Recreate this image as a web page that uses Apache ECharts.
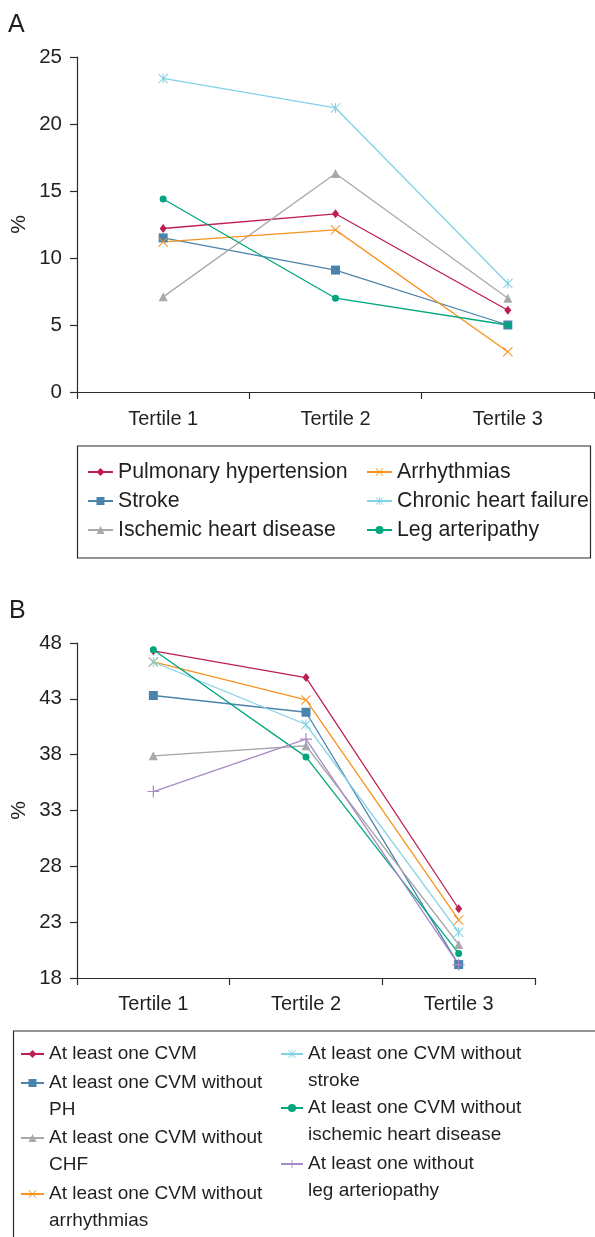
<!DOCTYPE html>
<html>
<head>
<meta charset="utf-8">
<script src="https://cdn.jsdelivr.net/npm/echarts@6/dist/echarts.min.js"></script>
<style>
html,body{margin:0;padding:0;background:#fff;}
#chart{width:595px;height:1237px;}
</style>
</head>
<body>
<div id="chart"></div>
<script>
// ---------- data ----------
const categories = ['Tertile 1', 'Tertile 2', 'Tertile 3'];
const yTicksA = [0, 5, 10, 15, 20, 25];
const yTicksB = [18, 23, 28, 33, 38, 43, 48];

// Panel A
const namesA = ['Pulmonary hypertension', 'Stroke', 'Ischemic heart disease', 'Arrhythmias', 'Chronic heart failure', 'Leg arteripathy'];
const pulmonaryHypertension = [12.2, 13.3, 6.1];
const strokeA = [11.5, 9.1, 5.0];
const ischemicHeartDisease = [7.1, 16.3, 7.0];
const arrhythmias = [11.2, 12.1, 3.0];
const chronicHeartFailure = [23.4, 21.2, 8.1];
const legArteripathy = [14.4, 7.0, 5.0];

// Panel B
const namesB = ['At least one CVM', 'At least one CVM without\nPH', 'At least one CVM without\nCHF', 'At least one CVM without\narrhythmias', 'At least one CVM without\nstroke', 'At least one CVM without\nischemic heart disease', 'At least one without\nleg arteriopathy'];
const cvmAny = [47.3, 44.9, 24.2];
const cvmNoPH = [43.3, 41.8, 19.2];
const cvmNoCHF = [37.9, 38.8, 21.0];
const cvmNoArrhythmias = [46.3, 42.9, 23.2];
const cvmNoStroke = [46.3, 40.7, 22.1];
const cvmNoIHD = [47.4, 37.8, 20.2];
const cvmNoLeg = [34.7, 39.4, 19.2];

// ---------- styles ----------
const FONT = 'Liberation Sans, Arial, Helvetica, sans-serif';
const TXT = '#231f20';
const AX = '#2b2b2b';
const C = {
  red: '#bf1e55', blue: '#4a83ab', gray: '#a7a9ac', orange: '#f7931e',
  cyan: '#80d2e6', green: '#00a67e', purple: '#a88ac6'
};
const SYM_X = 'path://M-10,-8.6L-8.6,-10L10,8.6L8.6,10Z M8.6,-10L10,-8.6L-8.6,10L-10,8.6Z';
const SYM_STAR = 'path://M-10,-8.6L-8.6,-10L10,8.6L8.6,10Z M8.6,-10L10,-8.6L-8.6,10L-10,8.6Z M-1,-10L1,-10L1,10L-1,10Z';
const SYM_PLUS = 'path://M-1,-10L1,-10L1,-1L10,-1L10,1L1,1L1,10L-1,10L-1,1L-10,1L-10,-1L-1,-1Z';

function line(name, data, color, symbol, size, idx) {
  return {
    type: 'line', name: name, data: data,
    xAxisIndex: idx, yAxisIndex: idx,
    symbol: symbol, symbolSize: size, showAllSymbol: true,
    lineStyle: { color: color, width: 1.3 },
    itemStyle: { color: color },
    emphasis: { disabled: true },
    animation: false, z: 3
  };
}

const series = [
  line(namesA[0], pulmonaryHypertension, C.red, 'diamond', [7, 9], 0),
  line(namesA[1], strokeA, C.blue, 'rect', 9, 0),
  line(namesA[2], ischemicHeartDisease, C.gray, 'triangle', 9, 0),
  line(namesA[3], arrhythmias, C.orange, SYM_X, 10, 0),
  line(namesA[4], chronicHeartFailure, C.cyan, SYM_STAR, 10, 0),
  line(namesA[5], legArteripathy, C.green, 'circle', 7, 0),

  line(namesB[0], cvmAny, C.red, 'diamond', [7, 9], 1),
  line(namesB[1], cvmNoPH, C.blue, 'rect', 9, 1),
  line(namesB[2], cvmNoCHF, C.gray, 'triangle', 9, 1),
  line(namesB[3], cvmNoArrhythmias, C.orange, SYM_X, 10, 1),
  line(namesB[4], cvmNoStroke, C.cyan, SYM_STAR, 10, 1),
  line(namesB[5], cvmNoIHD, C.green, 'circle', 7, 1),
  line(namesB[6], cvmNoLeg, C.purple, SYM_PLUS, 12, 1)
];

function xAxis(idx, margin) {
  return {
    type: 'category', gridIndex: idx, data: categories, boundaryGap: true,
    axisLine: { lineStyle: { color: AX, width: 1.2 } },
    axisTick: { show: true, length: 7, lineStyle: { color: AX, width: 1.2 } },
    axisLabel: { color: TXT, fontSize: 20, fontFamily: FONT, margin: margin },
    splitLine: { show: false }
  };
}
function yAxisBase(idx) {
  return {
    type: 'value', gridIndex: idx,
    name: '%', nameLocation: 'middle', nameRotate: 90, nameGap: 47, nameMoveOverlap: false,
    nameTextStyle: { color: TXT, fontSize: 21, fontFamily: FONT },
    axisLine: { show: true, lineStyle: { color: AX, width: 1.2 } },
    axisTick: { show: true, length: 7, lineStyle: { color: AX, width: 1.2 } },
    axisLabel: { color: TXT, fontSize: 20.5, fontFamily: FONT, margin: 15 },
    splitLine: { show: false }
  };
}
const yA = Object.assign(yAxisBase(0), { min: yTicksA[0], max: yTicksA[yTicksA.length - 1], interval: 5 });
const yB = yAxisBase(1);
yB.min = yTicksB[0];
yB.max = yTicksB[yTicksB.length - 1];
yB.axisLabel.customValues = yTicksB;
yB.axisTick.customValues = yTicksB;

// legends: one per entry so the two-column layout matches
function legendItem(name, left, centerY, itemWidth, fontSize, lh, twoLine) {
  return {
    data: [name], left: left, top: twoLine ? centerY - 1.5 * lh : centerY - lh / 2,
    orient: 'vertical', padding: 0, itemGap: 0,
    itemWidth: itemWidth, itemHeight: 10, selectedMode: false,
    // blank first line so the icon sits beside the first text line
    formatter: twoLine ? function (n) { return '\u00a0\n' + n; } : '{name}',
    textStyle: { color: TXT, fontSize: fontSize, fontFamily: FONT, lineHeight: lh }
  };
}
const legendA = [
  legendItem(namesA[0], 87, 472, 25, 21.3, 28, false),
  legendItem(namesA[1], 87, 501, 25, 21.3, 28, false),
  legendItem(namesA[2], 87, 530, 25, 21.3, 28, false),
  legendItem(namesA[3], 366, 472, 25, 21.3, 28, false),
  legendItem(namesA[4], 366, 501, 25, 21.3, 28, false),
  legendItem(namesA[5], 366, 530, 25, 21.3, 28, false)
];
const legendB = [
  legendItem(namesB[0], 20, 1054, 23, 19, 26.5, false),
  legendItem(namesB[1], 20, 1083, 23, 19, 26.5, true),
  legendItem(namesB[2], 20, 1138, 23, 19, 26.5, true),
  legendItem(namesB[3], 20, 1194, 23, 19, 26.5, true),
  legendItem(namesB[4], 280, 1054, 22, 19, 26.5, true),
  legendItem(namesB[5], 280, 1108, 22, 19, 26.5, true),
  legendItem(namesB[6], 280, 1164, 22, 19, 26.5, true)
];

const option = {
  backgroundColor: '#ffffff',
  animation: false,
  title: [
    { text: 'A', left: 8, top: 13, padding: 0, textStyle: { color: TXT, fontSize: 25, fontWeight: 'normal', fontFamily: FONT } },
    { text: 'B', left: 9, top: 599, padding: 0, textStyle: { color: TXT, fontSize: 25, fontWeight: 'normal', fontFamily: FONT } }
  ],
  grid: [
    { left: 77, top: 57, width: 517, height: 335, outerBoundsMode: 'none', containLabel: false },
    { left: 77, top: 643, width: 458, height: 335, outerBoundsMode: 'none', containLabel: false }
  ],
  xAxis: [xAxis(0, 17), xAxis(1, 16)],
  yAxis: [yA, yB],
  legend: legendA.concat(legendB),
  graphic: [
    { type: 'rect', shape: { x: 77.5, y: 446, width: 513, height: 112 }, style: { fill: 'none', stroke: AX, lineWidth: 1.2 }, silent: true },
    { type: 'rect', shape: { x: 13.5, y: 1031, width: 600, height: 230 }, style: { fill: 'none', stroke: AX, lineWidth: 1.2 }, silent: true }
  ],
  series: series
};

const chart = echarts.init(document.getElementById('chart'), null, { renderer: 'canvas' });
chart.setOption(option);
</script>
</body>
</html>
